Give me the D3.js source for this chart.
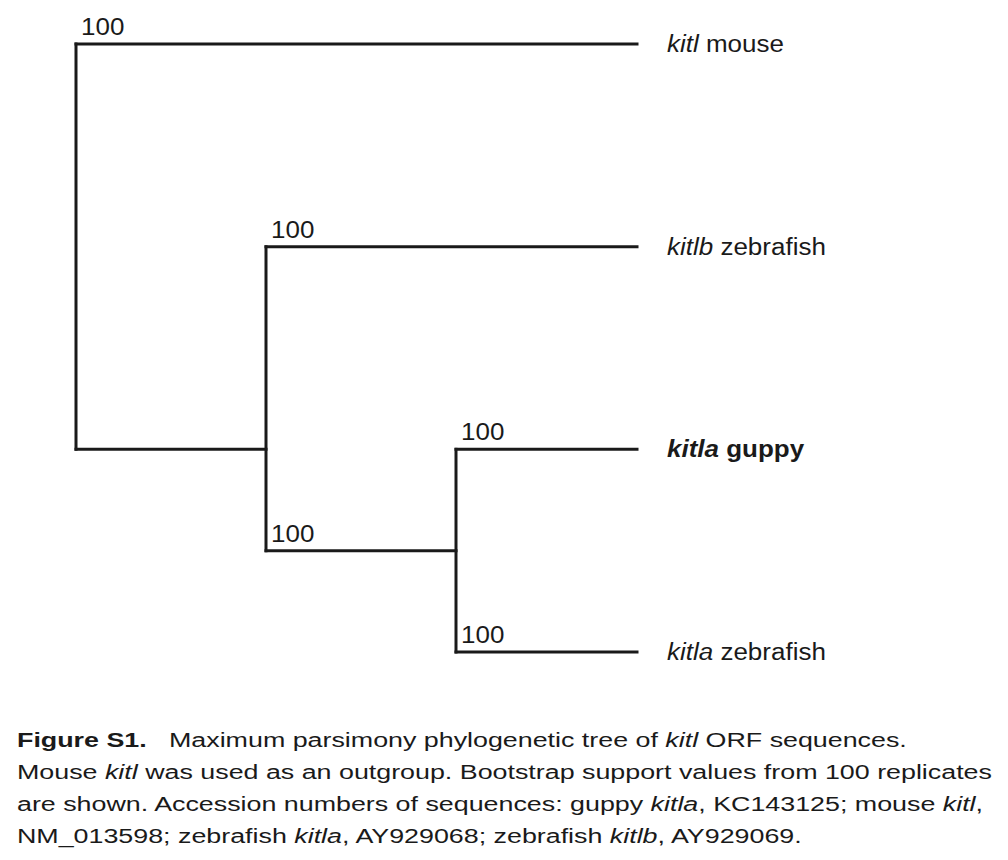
<!DOCTYPE html>
<html>
<head>
<meta charset="utf-8">
<script src="https://cdn.jsdelivr.net/npm/d3@7"></script>
<style>
  body { margin: 0; background: #fff; }
  svg { display: block; font-family: "Liberation Sans", Arial, sans-serif; }
</style>
</head>
<body>
<div id="chart"></div>
<script>
// Tree topology (parent list) and bootstrap support per branch
var nodeIds   = ["root", "mouse", "n1", "kitlbZ", "n2", "guppy", "kitlaZ"];
var parentIds = [null, "root", "root", "n1", "n1", "n2", "n2"];
var bootstrap = [null, 100, null, 100, 100, 100, 100];

// Tip labels: italic gene + species, bold for guppy
var tipIds     = ["mouse", "kitlbZ", "guppy", "kitlaZ"];
var tipGenes   = ["kitl", "kitlb", "kitla", "kitla"];
var tipSpecies = ["mouse", "zebrafish", "guppy", "zebrafish"];
var tipBold    = [false, false, true, false];

// Caption, as runs of [text, style]
var captionLines = [
  [["Figure S1.", "b"], ["   Maximum parsimony phylogenetic tree of ", ""], ["kitl", "i"], [" ORF sequences.", ""]],
  [["Mouse ", ""], ["kitl", "i"], [" was used as an outgroup. Bootstrap support values from 100 replicates", ""]],
  [["are shown. Accession numbers of sequences: guppy ", ""], ["kitla", "i"], [", KC143125; mouse ", ""], ["kitl", "i"], [",", ""]],
  [["NM_013598; zebrafish ", ""], ["kitla", "i"], [", AY929068; zebrafish ", ""], ["kitlb", "i"], [", AY929069.", ""]]
];

var width = 1008, height = 860;
var ink = "#1a1a1a";
// the source figure is a little stretched sideways
var treeStretch = 1.13, capStretch = 1.278;

var svg = d3.select("#chart").append("svg")
    .attr("width", width)
    .attr("height", height);

// Build hierarchy
var table = nodeIds.map(function(id, i) {
  return {id: id, parent: parentIds[i], support: bootstrap[i]};
});
var root = d3.stratify()
    .id(function(d) { return d.id; })
    .parentId(function(d) { return d.parent; })(table);

// Scales: internal nodes by depth, leaves aligned at the tip column
var depthX = d3.scaleLinear().domain([0, 2]).range([76, 456]);
var tipX = 637;
var leafY = d3.scalePoint().domain(tipIds).range([44, 652]);

root.eachAfter(function(n) {
  if (!n.children) {
    n.x = tipX;
    n.y = leafY(n.id);
  } else {
    n.x = depthX(n.depth);
    var ys = n.leaves().map(function(l) { return leafY(l.id); });
    n.y = (d3.min(ys) + d3.max(ys)) / 2;
  }
});

var g = svg.append("g");

// Branches: horizontal at child's y, from parent x to child x
g.selectAll(".branch")
  .data(root.descendants().filter(function(n) { return n.parent; }))
  .join("path")
    .attr("class", "branch")
    .attr("fill", "none")
    .attr("stroke", ink)
    .attr("stroke-width", 3)
    .attr("stroke-linecap", "square")
    .attr("d", function(n) {
      return "M" + n.parent.x + "," + n.y + "H" + n.x;
    });

// Vertical connectors at internal nodes
g.selectAll(".connector")
  .data(root.descendants().filter(function(n) { return n.children; }))
  .join("path")
    .attr("class", "connector")
    .attr("fill", "none")
    .attr("stroke", ink)
    .attr("stroke-width", 3)
    .attr("stroke-linecap", "square")
    .attr("d", function(n) {
      var ys = n.children.map(function(c) { return c.y; });
      return "M" + n.x + "," + d3.min(ys) + "V" + d3.max(ys);
    });

// Bootstrap values
g.selectAll(".support")
  .data(root.descendants().filter(function(n) { return n.data.support != null; }))
  .join("text")
    .attr("class", "support")
    .attr("transform", function(n) {
      return "translate(" + (n.parent.x + 5) + "," + (n.y - 9) + ") scale(" + treeStretch + ",1)";
    })
    .attr("fill", ink)
    .style("font-size", "23px")
    .text(function(n) { return n.data.support; });

// Tip labels
var tips = g.selectAll(".tip")
  .data(tipIds)
  .join("text")
    .attr("class", "tip")
    .attr("transform", function(d) {
      return "translate(" + (tipX + 30) + "," + (leafY(d) + 8) + ") scale(" + treeStretch + ",1)";
    })
    .attr("fill", ink)
    .style("font-size", "23px")
    .style("font-weight", function(d, i) { return tipBold[i] ? "bold" : "normal"; });

tips.append("tspan")
    .style("font-style", "italic")
    .text(function(d, i) { return tipGenes[i]; });
tips.append("tspan")
    .text(function(d, i) { return " " + tipSpecies[i]; });

// Caption
var cap = svg.append("g").attr("class", "caption");
captionLines.forEach(function(runs, li) {
  var t = cap.append("text")
      .attr("transform", "translate(17," + (747 + li * 32) + ") scale(" + capStretch + ",1)")
      .attr("fill", ink)
      .attr("xml:space", "preserve")
      .style("white-space", "pre")
      .style("font-size", "21px");
  runs.forEach(function(r) {
    t.append("tspan")
        .style("font-weight", r[1] === "b" ? "bold" : "normal")
        .style("font-style", r[1] === "i" ? "italic" : "normal")
        .text(r[0]);
  });
});
</script>
</body>
</html>
